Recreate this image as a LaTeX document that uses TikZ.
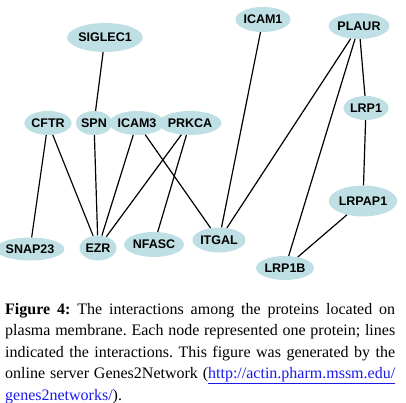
\documentclass[tikz,border=0pt]{standalone}
\usepackage{fontspec}
\setmainfont{Liberation Serif}
\newfontfamily\nodefont{Liberation Sans}
\usepackage{xcolor}
\usetikzlibrary{shapes.geometric}
\definecolor{my_nodeblue}{HTML}{BEE0E4}
\definecolor{my_linkblue}{HTML}{1A1AE6}
\newcommand{\weblink}[1]{\textcolor{my_linkblue}{\underline{#1}}}

\begin{document}
\begin{tikzpicture}[
    x=1pt, y=-1pt,
    protein/.style={ellipse, fill=my_nodeblue, inner sep=0pt,
        minimum height=25pt, font=\nodefont\bfseries\fontsize{12.5}{14}\selectfont},
    interaction/.style={draw=black, line width=1.2pt}
]
\useasboundingbox (0, 0) rectangle (406, 403);

%% ---- Proteine (obere Reihe) ----
\node[protein, minimum width=64pt, minimum height=29pt] (siglec1) at (105, 37.5) {SIGLEC1};
\node[protein, minimum width=44pt] (icam1) at (263, 19.5) {ICAM1};
\node[protein, minimum width=52pt, minimum height=26pt] (plaur) at (359, 26) {PLAUR};

%% ---- Mittlere Reihe ----
\node[protein, minimum width=40pt, minimum height=24pt] (cftr) at (48, 123) {CFTR};
\node[protein, minimum width=36pt, minimum height=24pt] (spn) at (94, 123) {SPN};
\node[protein, minimum width=44pt, minimum height=24pt] (icam3) at (137, 123) {ICAM3};
\node[protein, minimum width=50pt, minimum height=24pt] (prkca) at (190, 123) {PRKCA};
\node[protein, minimum width=40pt, minimum height=24pt] (lrp1) at (366, 108) {LRP1};
\node[protein, minimum width=60pt, minimum height=31pt] (lrpap1) at (363, 201) {LRPAP1};

%% ---- Untere Reihe ----
\node[protein, minimum width=52pt, minimum height=23pt] (snap23) at (30, 249) {SNAP23};
\node[protein, minimum width=37pt] (ezr) at (98, 248) {EZR};
\node[protein, minimum width=52pt] (nfasc) at (154, 244.5) {NFASC};
\node[protein, minimum width=52pt] (itgal) at (219, 240) {ITGAL};
\node[protein, minimum width=47pt, minimum height=24pt] (lrp1b) at (285, 268) {LRP1B};

%% ---- Interaktionen ----
\foreach \a/\b in {siglec1/spn, icam1/itgal, plaur/itgal, plaur/lrp1b,
                   plaur/lrp1, lrp1/lrpap1, lrpap1/lrp1b, cftr/snap23,
                   cftr/ezr, spn/ezr, icam3/ezr, icam3/itgal,
                   prkca/ezr, prkca/nfasc} {
    \draw[interaction] (\a) -- (\b);
}

%% ---- Bildunterschrift ----
\node[anchor=north west, inner sep=0pt, text width=390pt, align=justify,
      font=\frenchspacing\fontsize{16}{21.5}\selectfont] (caption) at (5, 303)
    {\textbf{Figure 4:} The interactions among the proteins located on\linebreak
     plasma membrane. Each node represented one protein; lines\linebreak
     indicated the interactions. This figure was generated by the\linebreak
     online server Genes2Network (\weblink{http://actin.pharm.mssm.edu/}\linebreak
     \weblink{genes2networks/}).};

\end{tikzpicture}
\end{document}
